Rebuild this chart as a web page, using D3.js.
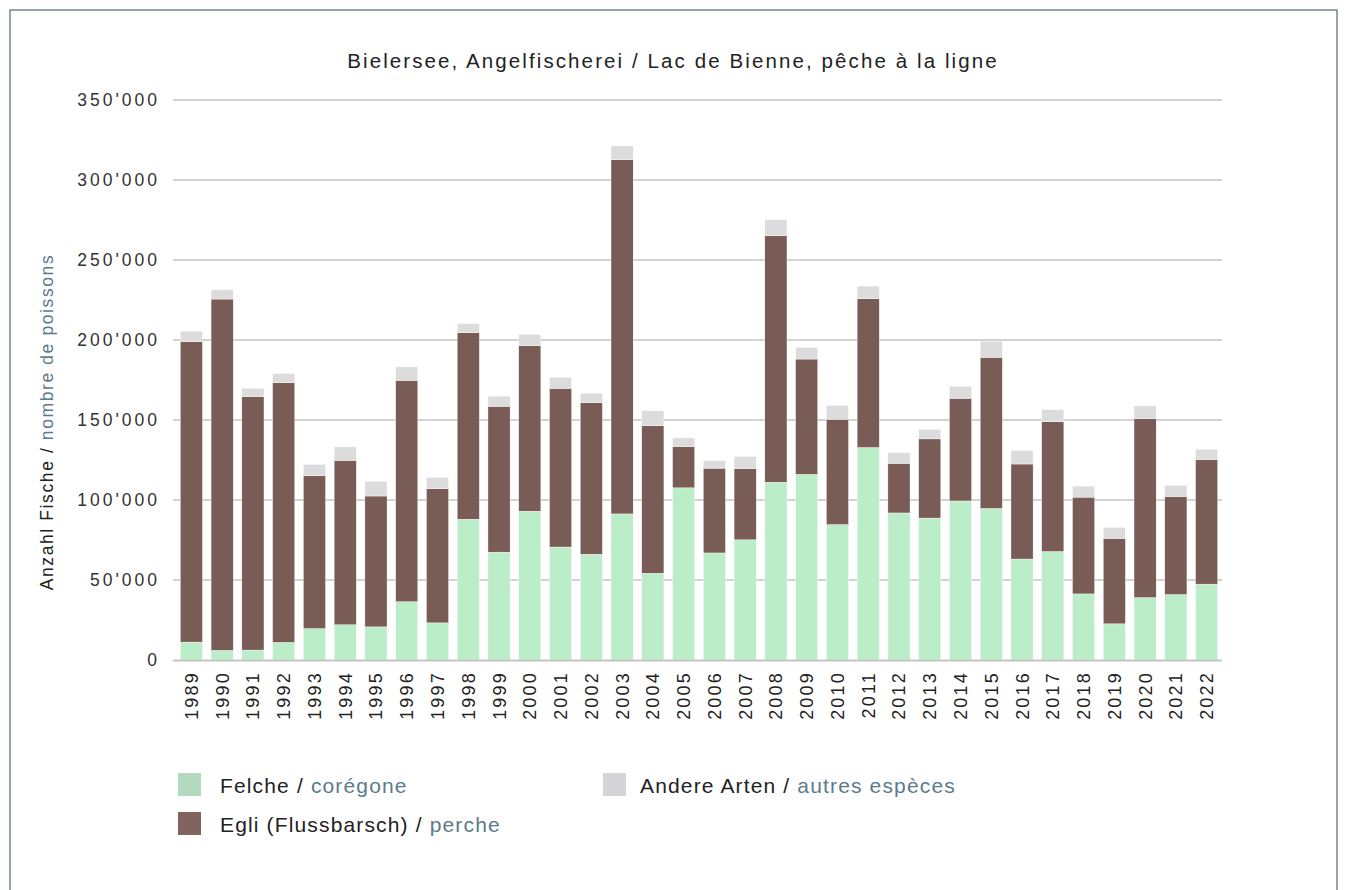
<!DOCTYPE html>
<html>
<head>
<meta charset="utf-8">
<script src="https://cdn.jsdelivr.net/npm/d3@7"></script>
<style>
  body { margin: 0; background: #fff; }
  svg { font-family: "Liberation Sans", Arial, sans-serif; }
</style>
</head>
<body>
<script>
// values (number of fish)
const years = ["1989","1990","1991","1992","1993","1994","1995","1996","1997","1998","1999","2000","2001","2002","2003","2004","2005","2006","2007","2008","2009","2010","2011","2012","2013","2014","2015","2016","2017","2018","2019","2020","2021","2022"]
const felche = [11200, 6000, 6200, 11000, 19600, 22000, 20700, 36400, 23200, 88000, 67400, 93000, 70600, 66100, 91300, 54200, 107600, 66900, 75100, 111100, 116000, 84600, 132800, 91900, 88700, 99400, 94700, 63100, 67800, 41300, 22600, 39000, 40900, 47400]
const egli = [187700, 219600, 158500, 162300, 95600, 102800, 81800, 138400, 83800, 116500, 91200, 103500, 99200, 94700, 221400, 92200, 25800, 53000, 44600, 154100, 72100, 65900, 93000, 31000, 49500, 64200, 94500, 59400, 81100, 60500, 53400, 111900, 61300, 77900]
const andere = [6600, 5800, 5100, 5800, 7100, 8400, 9200, 8400, 7100, 5800, 6300, 7100, 6900, 6000, 8600, 9400, 5400, 4700, 7500, 10100, 7300, 8600, 7900, 6700, 6000, 7500, 10100, 8400, 7600, 6900, 6900, 7900, 6900, 6400]
const yTicks = [0, 50000, 100000, 150000, 200000, 250000, 300000, 350000]

const width = 1346
const height = 890

const svg = d3.select("body").append("svg")
    .attr("width", width)
    .attr("height", height)

// frame
svg.append("rect")
    .attr("x", 10).attr("y", 10)
    .attr("width", 1327).attr("height", 900)
    .attr("fill", "none")
    .attr("stroke", "#6f8591")
    .attr("stroke-width", 1.5)

svg.append("text")
    .attr("x", 673).attr("y", 68)
    .attr("text-anchor", "middle")
    .attr("font-size", 20.5)
    .attr("letter-spacing", 2.1)
    .attr("fill", "#222")
    .text("Bielersee, Angelfischerei / Lac de Bienne, pêche à la ligne")

let x = d3.scaleBand()
    .domain(years)
    .range([176, 1222])
    .paddingInner(0.28)
    .paddingOuter(0.14)

let y = d3.scaleLinear()
    .domain([0, 350000])
    .range([660, 100])

const fmt = d => d3.format(",")(d).replace(/,/g, "'")

// grid lines
svg.append("g")
    .selectAll("line")
    .data(yTicks.filter(d => d > 0))
    .enter()
    .append("line")
    .attr("x1", 173).attr("x2", 1222)
    .attr("y1", d => y(d)).attr("y2", d => y(d))
    .attr("stroke", "#a8a8a8")
    .attr("stroke-width", 1.2)

// y tick labels
svg.append("g")
    .selectAll("text")
    .data(yTicks)
    .enter()
    .append("text")
    .attr("x", 160)
    .attr("y", d => y(d) + 6)
    .attr("text-anchor", "end")
    .attr("font-size", 17.5)
    .attr("letter-spacing", 3)
    .attr("fill", "#333")
    .text(d => fmt(d))

// y title
let yTitle = svg.append("text")
    .attr("transform", "translate(53,422) rotate(-90)")
    .attr("text-anchor", "middle")
    .attr("font-size", 17.5)
    .attr("letter-spacing", 1.6)
    .attr("fill", "#222")
yTitle.append("tspan").text("Anzahl Fische / ")
yTitle.append("tspan").attr("fill", "#5b7b89").text("nombre de poissons")

// stacked bars
const rows = years.map((yr, i) => ({ year: yr, felche: felche[i], egli: egli[i], andere: andere[i] }))
const keys = ["felche", "egli", "andere"]
const colors = { felche: "#bbedc9", egli: "#785c55", andere: "#dcdcdc" }
const stacked = d3.stack().keys(keys)(rows)

svg.append("g")
    .selectAll("g")
    .data(stacked)
    .enter()
    .append("g")
    .attr("fill", d => colors[d.key])
    .selectAll("rect")
    .data(d => d)
    .enter()
    .append("rect")
    .attr("x", d => x(d.data.year))
    .attr("width", x.bandwidth())
    .attr("y", d => y(d[1]))
    .attr("height", d => y(d[0]) - y(d[1]))
    .attr("stroke", "#ffffff")
    .attr("stroke-width", 0.4)

// baseline
svg.append("line")
    .attr("x1", 173).attr("x2", 1222)
    .attr("y1", y(0) + 0.5).attr("y2", y(0) + 0.5)
    .attr("stroke", "#c4c4c4")
    .attr("stroke-width", 2)

// x labels
svg.append("g")
    .selectAll("text")
    .data(years)
    .enter()
    .append("text")
    .attr("transform", d => "translate(" + (x(d) + x.bandwidth() / 2 + 6.5) + ",671) rotate(-90)")
    .attr("text-anchor", "end")
    .attr("font-size", 18)
    .attr("letter-spacing", 2.2)
    .attr("fill", "#222")
    .text(d => d)

// legend
const legend = [
    { key: "felche", de: "Felche / ", fr: "corégone", color: "#b3d9be", x: 178, y: 773, tx: 220 },
    { key: "egli", de: "Egli (Flussbarsch) / ", fr: "perche", color: "#836360", x: 178, y: 812, tx: 220 },
    { key: "andere", de: "Andere Arten / ", fr: "autres espèces", color: "#d5d5d7", x: 603, y: 773, tx: 640 }
]
let lg = svg.append("g").selectAll("g")
    .data(legend)
    .enter()
    .append("g")
lg.append("rect")
    .attr("x", d => d.x).attr("y", d => d.y)
    .attr("width", 23).attr("height", 23)
    .attr("fill", d => d.color)
let lt = lg.append("text")
    .attr("x", d => d.tx)
    .attr("y", d => d.y + 20)
    .attr("font-size", 21)
    .attr("letter-spacing", 1.15)
    .attr("fill", "#222")
lt.append("tspan").text(d => d.de)
lt.append("tspan").attr("fill", "#5b7b89").text(d => d.fr)
</script>
</body>
</html>
